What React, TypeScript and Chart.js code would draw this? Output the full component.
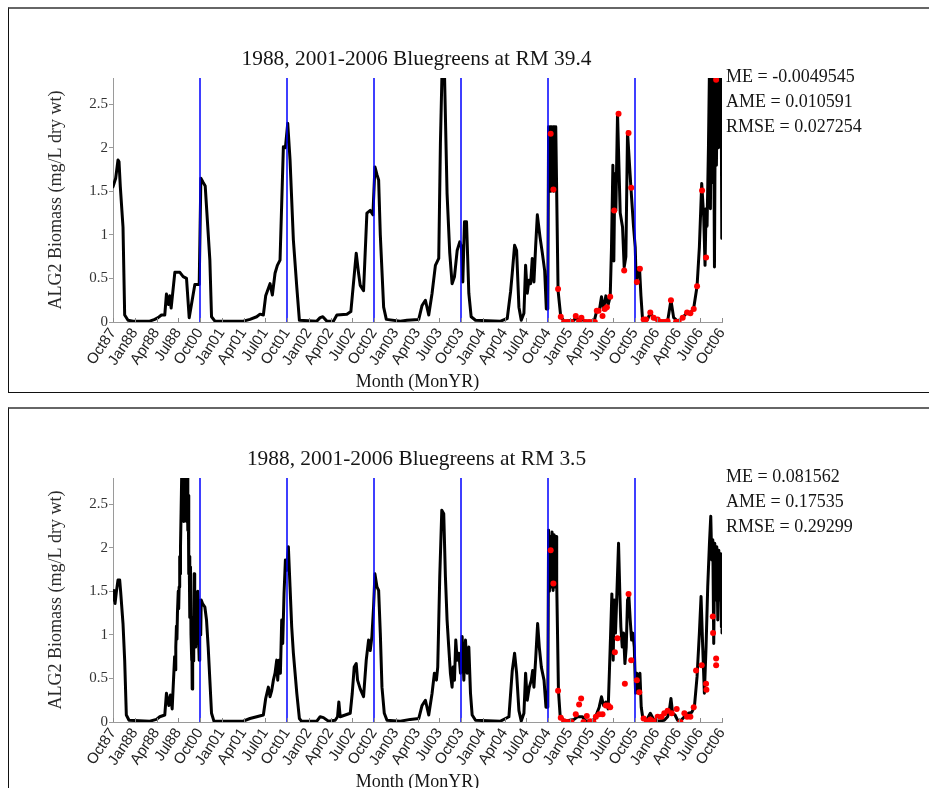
import React, { useEffect, useRef } from 'react';
import { Chart, registerables } from 'chart.js';

Chart.register(...registerables);

// ---------- data ----------
// x values are months counted from Oct 1987 (0) on the compressed axis (1988 water year, then Oct00..Oct06)
const tickLabels = ['Oct87', 'Jan88', 'Apr88', 'Jul88', 'Oct00', 'Jan01', 'Apr01', 'Jul01', 'Oct01', 'Jan02', 'Apr02', 'Jul02', 'Oct02', 'Jan03', 'Apr03', 'Jul03', 'Oct03', 'Jan04', 'Apr04', 'Jul04', 'Oct04', 'Jan05', 'Apr05', 'Jul05', 'Oct05', 'Jan06', 'Apr06', 'Jul06', 'Oct06'];
const yearBreaks = [12, 24, 36, 48, 60, 72];

// Panel 1: RM 39.4 model
const m1Month = [
  0, 0.37, 0.69, 0.83, 1.01, 1.38, 1.61, 2.07, 2.76, 5.07,
  5.76, 6.22, 6.68, 7.14, 7.37, 7.65, 7.83, 8.02, 8.53, 9.22,
  9.68, 10.14, 10.51, 11.29, 11.89, 12.12, 12.44, 12.72, 13.36, 13.59,
  14.06, 17.97, 18.89, 19.82, 20.28, 20.74, 21.06, 21.66, 21.98, 22.35,
  22.67, 23.04, 23.5, 23.78, 24.1, 24.42, 24.88, 25.35, 25.71, 28.11,
  28.57, 28.94, 29.49, 30.41, 30.88, 32.26, 32.81, 33.55, 33.87, 34.1,
  34.56, 35.02, 35.48, 35.85, 36.13, 36.41, 36.64, 36.87, 37.33, 37.7,
  39.63, 40.55, 42.17, 42.63, 43.09, 43.55, 44.01, 44.47, 44.93, 45.16,
  45.39, 45.71, 46.08, 46.45, 46.77, 47.1, 47.47, 47.83, 48.06, 48.25,
  48.48, 48.76, 49.08, 49.4, 50.0, 53.46, 54.38, 54.84, 55.07, 55.39,
  55.67, 55.99, 56.31, 56.68, 56.91, 57.14, 57.37, 57.6, 57.83, 58.06,
  58.29, 58.53, 58.89, 59.22, 59.54, 59.77, 59.97, 60.08, 60.2, 60.3,
  60.4, 60.5, 60.6, 60.7, 60.8, 60.9, 61.0, 61.07, 61.39, 61.76,
  62.22, 63.6, 63.88, 64.2, 64.61, 64.98, 66.37, 66.73, 67.06, 67.38,
  67.66, 67.98, 68.3, 68.58, 68.76, 68.95, 69.08, 69.22, 69.36, 69.59,
  69.96, 70.28, 70.51, 70.74, 70.97, 71.43, 71.8, 72.03, 72.17, 72.45,
  72.63, 72.82, 73.05, 73.74, 74.11, 74.57, 75.58, 76.5, 76.96, 77.33,
  77.88, 78.58, 79.18, 79.64, 80.1, 80.56, 80.88, 81.2, 81.48, 81.66,
  81.8, 81.94, 82.13, 82.27, 82.4, 82.54, 82.68, 82.82, 82.96, 83.1,
  83.23, 83.37, 83.51, 83.65, 83.78, 83.88, 83.97,
];
const m1Value = [
  1.55, 1.65, 1.86, 1.84, 1.55, 1.09, 0.08, 0.02, 0.01, 0.01,
  0.03, 0.05, 0.08, 0.08, 0.32, 0.2, 0.3, 0.16, 0.57, 0.57,
  0.52, 0.5, 0.05, 0.43, 0.43, 1.65, 1.6, 1.56, 0.71, 0.06,
  0.01, 0.01, 0.03, 0.06, 0.09, 0.08, 0.3, 0.44, 0.31, 0.56,
  0.65, 0.71, 2.01, 2.0, 2.28, 1.86, 0.94, 0.4, 0.02, 0.01,
  0.05, 0.06, 0.01, 0.01, 0.08, 0.09, 0.12, 0.79, 0.56, 0.42,
  0.36, 1.25, 1.28, 1.23, 1.78, 1.69, 1.63, 1.0, 0.17, 0.03,
  0.01, 0.02, 0.03, 0.19, 0.25, 0.08, 0.33, 0.65, 0.73, 2.05,
  2.9, 2.9, 1.47, 0.79, 0.44, 0.52, 0.82, 0.92, 0.86, 0.46,
  1.15, 1.15, 0.33, 0.06, 0.02, 0.01, 0.04, 0.35, 0.56, 0.88,
  0.82, 0.17, 0.02, 0.1, 0.65, 0.33, 0.48, 0.44, 0.73, 0.46,
  0.86, 1.23, 0.98, 0.79, 0.59, 0.15, 0.15, 2.24, 1.55, 2.24,
  1.5, 2.24, 1.6, 2.24, 1.5, 2.24, 2.0, 2.24, 0.36, 0.06,
  0.01, 0.02, 0.07, 0.01, 0.05, 0.01, 0.01, 0.13, 0.12, 0.29,
  0.14, 0.3, 0.2, 0.29, 0.86, 1.8, 0.7, 1.7, 1.28, 2.39,
  1.25, 1.09, 0.63, 0.75, 2.18, 1.55, 1.09, 0.86, 0.44, 0.62,
  0.61, 0.3, 0.02, 0.03, 0.11, 0.04, 0.01, 0.01, 0.25, 0.05,
  0.01, 0.05, 0.11, 0.1, 0.16, 0.41, 0.86, 1.59, 1.2, 0.65,
  1.3, 1.1, 2.0, 2.9, 1.3, 2.9, 1.6, 2.9, 0.63, 2.9,
  1.8, 2.9, 2.0, 2.9, 2.2, 2.9, 0.96,
];
// Panel 1: RM 39.4 observations
const o1Month = [
  60.37, 60.74, 61.39, 61.76, 62.22, 62.68, 63.23, 63.83, 64.29, 64.61,
  65.21, 65.67, 66.14, 66.46, 66.73, 66.97, 67.52, 67.84, 68.12, 68.58,
  69.13, 69.73, 70.51, 71.11, 71.48, 72.26, 72.68, 73.19, 73.51, 74.11,
  74.57, 75.12, 75.67, 76.04, 76.5, 76.96, 77.66, 78.02, 78.58, 79.18,
  79.64, 80.1, 80.56, 81.25, 81.8, 83.19,
];
const o1Value = [
  2.16, 1.52, 0.38, 0.06, 0, 0, 0, 0.07, 0.01, 0.05,
  0, 0, 0, 0, 0.13, 0.13, 0.07, 0.15, 0.17, 0.29,
  1.28, 2.39, 0.59, 2.17, 1.54, 0.46, 0.61, 0.03, 0.03, 0.11,
  0.05, 0.03, 0, 0, 0.01, 0.25, 0, 0, 0.05, 0.11,
  0.1, 0.15, 0.41, 1.51, 0.74, 2.78,
];

// Panel 2: RM 3.5 model
const m2Month = [
  0, 0.14, 0.28, 0.46, 0.69, 0.92, 1.06, 1.38, 1.61, 1.84,
  2.21, 5.07, 5.99, 6.45, 7.14, 7.37, 7.7, 7.93, 8.16, 8.39,
  8.5, 8.58, 8.66, 8.75, 8.82, 8.89, 9.0, 9.06, 9.12, 9.2,
  9.25, 9.31, 9.49, 9.59, 9.68, 9.77, 9.86, 9.95,
  10.05, 10.14, 10.23, 10.32, 10.38, 10.45, 10.51, 10.56, 10.62, 10.69,
  10.76, 10.83, 10.88, 10.92, 10.99, 11.06, 11.13, 11.2, 11.27, 11.34,
  11.4, 11.47, 11.54, 11.61, 11.68, 11.75, 11.82, 11.89, 11.96, 12.03,
  12.1, 12.17, 12.35,
  12.67, 12.9, 13.13, 13.36, 13.59, 13.92, 17.97, 18.89, 19.82, 20.74,
  21.06, 21.43, 21.66, 21.89, 22.12, 22.35, 22.58, 22.72, 22.9, 23.09,
  23.27, 23.41, 23.59, 23.78, 23.96, 24.19, 24.42, 24.65, 24.88, 25.35,
  25.71, 25.99, 28.11, 28.57, 29.03, 29.72, 30.65, 30.97, 31.15, 31.34,
  32.03, 32.72, 33.0, 33.27, 33.55, 33.73, 34.1, 34.56, 34.93, 35.25,
  35.48, 35.71, 35.94, 36.13, 36.41, 36.64, 36.87, 37.1, 37.42, 37.79,
  39.63, 41.01, 42.17, 42.63, 43.09, 43.55, 44.01, 44.33, 44.61, 44.79,
  45.07, 45.35, 45.62, 45.85, 46.08, 46.31, 46.54, 46.77, 46.91, 47.1,
  47.28, 47.47, 47.7, 47.93, 48.16, 48.39, 48.62, 48.85, 49.08, 49.31,
  49.54, 50.0, 53.46, 54.61, 55.07, 55.39, 55.67, 55.99, 56.31, 56.68,
  56.91, 57.14, 57.42, 57.7, 57.88, 58.06, 58.29, 58.57, 58.8, 59.08,
  59.45, 59.72, 59.97, 60.08, 60.2, 60.3, 60.42, 60.56, 60.7, 60.84,
  60.97, 61.11, 61.2, 61.3, 61.44, 61.67, 62.22, 63.6, 64.06, 64.75,
  65.21, 66.37, 67.06, 67.38, 67.66, 67.98, 68.3, 68.58, 68.81, 68.99,
  69.13, 69.31, 69.5, 69.73, 69.91, 70.05, 70.24, 70.42, 70.61, 70.79,
  70.97, 71.16, 71.34, 71.53, 71.71, 71.9, 72.08, 72.26, 72.49, 72.68,
  72.86, 73.09, 73.65, 74.11, 74.57, 75.12, 76.04, 76.5, 76.73, 76.96,
  77.19, 77.52, 77.88, 78.26, 78.81, 79.36, 79.82, 80.19, 80.56, 80.88,
  81.11, 81.34, 81.57, 81.8, 82.03, 82.27, 82.45, 82.59, 82.73, 82.86,
  83.0, 83.14, 83.28, 83.42, 83.56, 83.69, 83.83, 83.92, 83.97, 84.0,
];
const m2Value = [
  1.4, 1.51, 1.36, 1.49, 1.63, 1.63, 1.49, 1.13, 0.71, 0.08,
  0.02, 0.01, 0.03, 0.06, 0.08, 0.33, 0.19, 0.31, 0.15, 0.56,
  0.75, 0.6, 0.86, 1.1, 0.95, 1.25, 1.5, 1.3, 1.55, 1.9,
  1.7, 2.01, 2.9, 2.4, 2.9, 2.3, 2.9, 2.35,
  2.9, 2.3, 2.9, 2.2, 2.6, 1.7, 1.9, 1.2, 1.5, 1.78,
  1.0, 0.71, 1.2, 0.38, 0.9, 1.09, 0.7, 1.7, 1.1, 0.86,
  1.3, 1.47, 0.9, 1.02, 1.5, 1.4, 0.9, 0.71, 1.3, 1.17,
  1.0, 1.4, 1.36,
  1.32, 1.17, 0.86, 0.48, 0.1, 0.01, 0.01, 0.04, 0.06, 0.08,
  0.27, 0.4, 0.29, 0.36, 0.48, 0.56, 0.71, 0.48, 0.71, 0.56,
  1.17, 0.9, 1.47, 1.86, 1.74, 2.01, 1.55, 1.09, 0.79, 0.33,
  0.04, 0.01, 0.01, 0.06, 0.05, 0.01, 0.02, 0.06, 0.23, 0.06,
  0.08, 0.1, 0.33, 0.63, 0.67, 0.48, 0.38, 0.29, 0.71, 0.94,
  0.82, 0.98, 1.32, 1.7, 1.55, 1.51, 1.02, 0.4, 0.1, 0.02,
  0.01, 0.03, 0.04, 0.19, 0.25, 0.08, 0.33, 0.56, 0.48, 0.63,
  1.67, 2.43, 2.39, 1.67, 1.17, 0.86, 0.56, 0.4, 0.63, 0.48,
  0.94, 0.71, 0.79, 0.56, 0.98, 0.48, 0.94, 0.56, 0.86, 0.33,
  0.08, 0.02, 0.01, 0.06, 0.59, 0.79, 0.56, 0.13, 0.01, 0.1,
  0.56, 0.25, 0.4, 0.48, 0.59, 0.4, 0.71, 1.13, 0.86, 0.63,
  0.48, 0.17, 0.17, 2.2, 1.5, 2.13, 1.55, 2.18, 1.51, 2.15,
  1.55, 2.13, 1.6, 1.09, 0.36, 0.08, 0.01, 0.03, 0.06, 0.06,
  0.01, 0.02, 0.17, 0.29, 0.19, 0.23, 0.15, 0.86, 1.47, 0.71,
  1.4, 1.02, 1.47, 2.05, 1.47, 1.09, 0.86, 1.02, 0.67, 0.86,
  1.4, 1.44, 1.17, 0.94, 1.02, 0.86, 0.33, 0.56, 0.36, 0.56,
  0.17, 0.04, 0.03, 0.1, 0.03, 0.01, 0.02, 0.06, 0.13, 0.27,
  0.1, 0.08, 0.02, 0.01, 0.06, 0.1, 0.11, 0.17, 0.52, 1.02,
  1.44, 0.86, 0.33, 0.86, 1.55, 2.05, 2.36, 1.86, 2.09, 0.9,
  2.05, 1.4, 2.01, 1.17, 1.97, 1.4, 1.93, 1.09, 1.86, 1.02,
];
// Panel 2: RM 3.5 observations
const o2Month = [
  60.37, 60.74, 61.39, 61.76, 62.22, 62.68, 63.23, 63.83, 64.29, 64.57,
  64.9, 65.35, 65.81, 66.27, 66.6, 67.06, 67.52, 67.98, 68.3, 68.58,
  69.22, 69.59, 70.6, 71.11, 71.48, 72.26, 72.59, 73.19, 73.65, 74.11,
  74.57, 75.12, 75.67, 76.04, 76.5, 77.06, 77.75, 78.26, 78.81, 79.18,
  79.64, 80.1, 80.42, 81.2, 81.8, 81.85, 82.73, 82.77, 83.19, 83.19,
];
const o2Value = [
  1.97, 1.59, 0.36, 0.05, 0.01, 0, 0, 0.09, 0.2, 0.27,
  0, 0.07, 0.01, 0, 0.06, 0.09, 0.09, 0.19, 0.19, 0.17,
  0.8, 0.96, 0.44, 1.47, 0.71, 0.48, 0.34, 0.04, 0.01, 0.03,
  0.01, 0.06, 0.06, 0.1, 0.13, 0.1, 0.15, 0, 0.1, 0.06,
  0.06, 0.17, 0.59, 0.65, 0.44, 0.37, 1.21, 1.02, 0.73, 0.65,
];

const stats1 = ['ME = -0.0049545', 'AME = 0.010591', 'RMSE = 0.027254'];
const stats2 = ['ME = 0.081562', 'AME = 0.17535', 'RMSE = 0.29299'];
const title1 = '1988, 2001-2006 Bluegreens at RM 39.4';
const title2 = '1988, 2001-2006 Bluegreens at RM 3.5';
const yTitle = 'ALG2 Biomass (mg/L dry wt)';
const xTitle = 'Month (MonYR)';
const Y_MAX = 2.8;

// ---------- layout ----------
const CW = 929;
const CH = 392;
const AREA = { left: 113, right: 722, top: 78, bottom: 322 };
const Y_W = 60;
const X_H = 50;
const SERIF = '"Liberation Serif", "Times New Roman", serif';
const SANS = '"Liberation Sans", Arial, sans-serif';

type PanelProps = {
  top: number;
  title: string;
  stats: string[];
  mx: number[];
  my: number[];
  ox: number[];
  oy: number[];
};

function Panel({ top, title, stats, mx, my, ox, oy }: PanelProps) {
  const ref = useRef<HTMLCanvasElement | null>(null);

  useEffect(() => {
    if (!ref.current) return;
    const overlay = {
      id: 'overlay',
      afterDraw(chart: any) {
        const ctx = chart.ctx as CanvasRenderingContext2D;
        const a = chart.chartArea;
        const xs = chart.scales.x;
        // inward x ticks
        ctx.save();
        ctx.strokeStyle = '#8a8a8a';
        ctx.lineWidth = 1;
        xs.ticks.forEach((t: any) => {
          const px = Math.round(xs.getPixelForValue(t.value)) + 0.5;
          ctx.beginPath();
          ctx.moveTo(px, a.bottom);
          ctx.lineTo(px, a.bottom - 4);
          ctx.stroke();
        });
        ctx.restore();

        ctx.save();
        ctx.fillStyle = '#151515';
        ctx.textBaseline = 'alphabetic';
        // title
        ctx.font = `21.4px ${SERIF}`;
        ctx.textAlign = 'center';
        ctx.fillText(title, (a.left + a.right) / 2 - 1, 65);
        // stats
        ctx.font = `18px ${SERIF}`;
        ctx.textAlign = 'left';
        stats.forEach((s, i) => ctx.fillText(s, a.right + 4, 82 + 25 * i));
        // x title
        ctx.textAlign = 'center';
        ctx.fillText(xTitle, (a.left + a.right) / 2, 387);
        // y title
        ctx.translate(56, (a.top + a.bottom) / 2);
        ctx.rotate(-Math.PI / 2);
        ctx.textBaseline = 'middle';
        ctx.fillStyle = '#2a2a2a';
        ctx.fillText(yTitle, 0, 0);
        ctx.restore();
      },
    };

    const breakData: any[] = [];
    yearBreaks.forEach((b) => {
      breakData.push({ x: b, y: 0 }, { x: b, y: Y_MAX }, { x: b, y: null });
    });

    const chart = new Chart(ref.current, {
      type: 'line',
      data: {
        datasets: [
          {
            label: 'Observed',
            data: ox.map((x, i) => ({ x, y: oy[i] })),
            showLine: false,
            pointRadius: 3,
            pointStyle: 'circle',
            pointBackgroundColor: '#ff0000',
            pointBorderColor: '#ff0000',
            pointBorderWidth: 0,
            order: 0,
          } as any,
          {
            label: 'Year break',
            data: breakData,
            borderColor: '#0000ff',
            borderWidth: 1.5,
            pointRadius: 0,
            spanGaps: false,
            order: 1,
          } as any,
          {
            label: 'Model',
            data: mx.map((x, i) => ({ x, y: my[i] })),
            borderColor: '#000000',
            borderWidth: 3,
            pointRadius: 0,
            borderJoinStyle: 'round',
            borderCapStyle: 'round',
            tension: 0,
            order: 2,
          } as any,
        ],
      },
      options: {
        responsive: false,
        animation: false,
        events: [],
        layout: {
          padding: {
            left: AREA.left - Y_W,
            right: CW - AREA.right,
            top: AREA.top,
            bottom: CH - AREA.bottom - X_H,
          },
        },
        plugins: {
          legend: { display: false },
          tooltip: { enabled: false },
          title: { display: false },
        },
        scales: {
          x: {
            type: 'linear',
            min: 0,
            max: 84,
            afterFit: (s: any) => {
              s.height = X_H;
            },
            grid: { drawOnChartArea: false, drawTicks: false },
            border: { display: true, color: '#9a9a9a', width: 1 },
            ticks: {
              stepSize: 3,
              autoSkip: false,
              includeBounds: false,
              maxRotation: 56,
              minRotation: 56,
              padding: 3,
              color: '#222',
              font: { family: SANS, size: 15 },
              callback: (v: any) => tickLabels[Math.round(Number(v) / 3)] ?? '',
            },
          },
          y: {
            type: 'linear',
            min: 0,
            max: Y_MAX,
            afterFit: (s: any) => {
              s.width = Y_W;
            },
            grid: { drawOnChartArea: false, drawTicks: true, tickLength: 4, color: '#9a9a9a' },
            border: { display: true, color: '#9a9a9a', width: 1 },
            ticks: {
              stepSize: 0.5,
              includeBounds: false,
              padding: 1,
              color: '#333',
              font: { family: SERIF, size: 15 },
              callback: (v: any) => String(Math.round(Number(v) * 10) / 10),
            },
          },
        },
      } as any,
      plugins: [overlay],
    });
    return () => chart.destroy();
  }, []);

  return (
    <canvas
      ref={ref}
      width={CW}
      height={CH}
      style={{ position: 'absolute', left: 0, top, width: CW, height: CH }}
    />
  );
}

export default function App() {
  const box = (top: number, height: number) => ({
    position: 'absolute' as const,
    left: 8,
    top,
    width: 940,
    height,
    boxSizing: 'border-box' as const,
    borderTop: '2px solid #666',
    borderLeft: '1px solid #111',
    borderBottom: '1px solid #111',
  });
  return (
    <div
      style={{
        position: 'fixed',
        left: 0,
        top: 0,
        width: 929,
        height: 788,
        overflow: 'hidden',
        background: '#fff',
      }}
    >
      <div style={box(7, 386)} />
      <div style={box(407, 400)} />
      <Panel top={0} title={title1} stats={stats1} mx={m1Month} my={m1Value} ox={o1Month} oy={o1Value} />
      <Panel top={400} title={title2} stats={stats2} mx={m2Month} my={m2Value} ox={o2Month} oy={o2Value} />
    </div>
  );
}
